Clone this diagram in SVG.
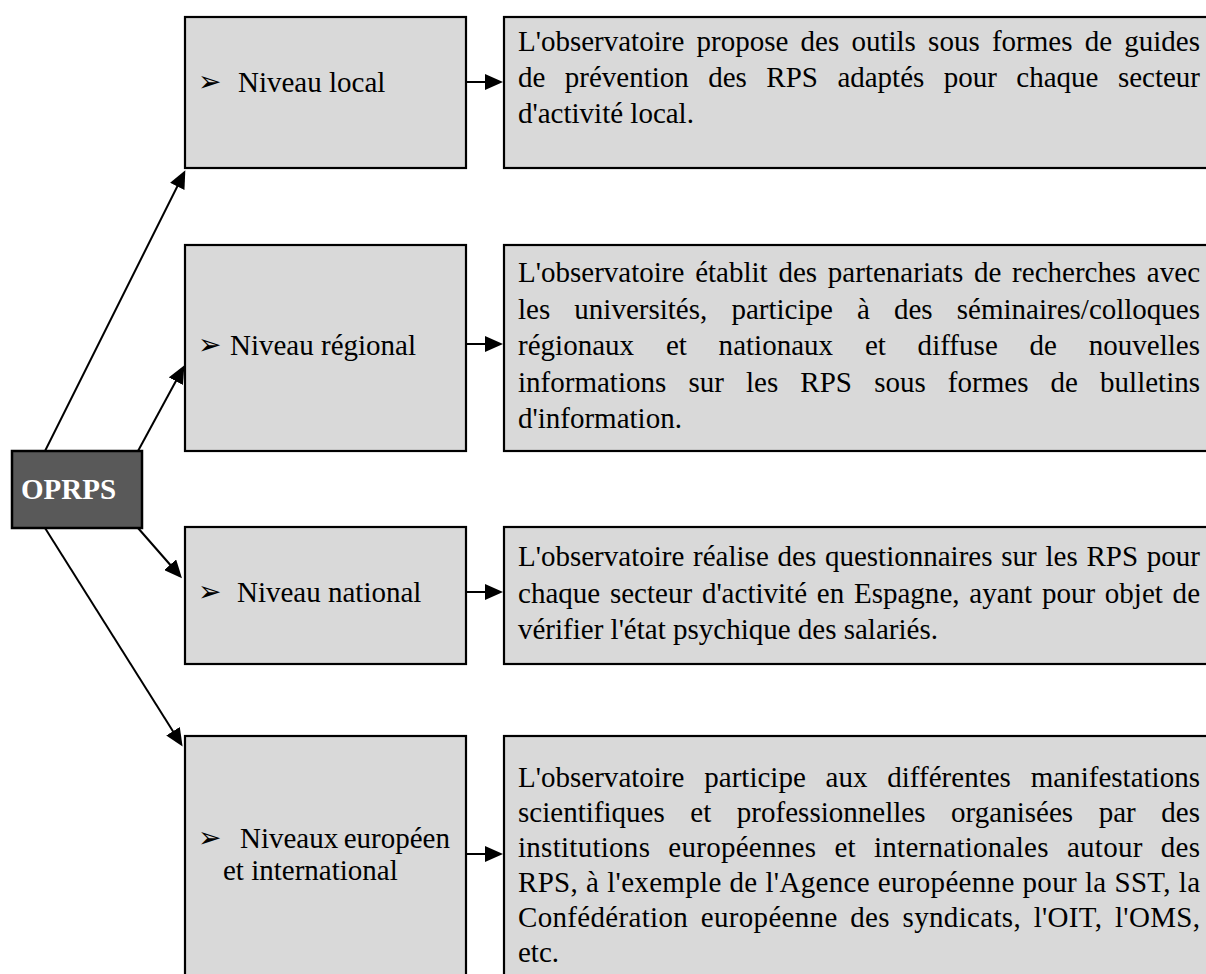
<svg xmlns="http://www.w3.org/2000/svg" width="1206" height="974" viewBox="0 0 1206 974">
<style>
.box{fill:#d9d9d9;stroke:#000;stroke-width:2.2}
.t{font-family:"Liberation Serif","Times New Roman",serif;font-size:29px;fill:#000}
.b{font-family:"DejaVu Sans",sans-serif;font-size:28px;fill:#000}
.c{stroke:#000;stroke-width:2;fill:none;marker-end:url(#ah)}
</style>
<defs>
<marker id="ah" markerUnits="userSpaceOnUse" markerWidth="18" markerHeight="16" refX="15" refY="8" orient="auto">
<path d="M0,0 L18,8 L0,16 Z" fill="#000"/>
</marker>
</defs>
<rect width="1206" height="974" fill="#fff"/>

<g id="oprps">
<rect x="12" y="451" width="130" height="77" fill="#595959" stroke="#000" stroke-width="2.5"/>
<text x="21" y="499" font-family="Liberation Serif,Times New Roman,serif" font-size="29" font-weight="bold" fill="#fff">OPRPS</text>
</g>

<g id="local">
<rect class="box" x="185" y="17" width="281" height="151"/>
<text class="b" x="198" y="91">➢</text>
<text class="t" x="238" y="92">Niveau local</text>
</g>
<g id="local-desc">
<rect class="box" x="504" y="17" width="720" height="151"/>
<text class="t" x="518" y="50.5" word-spacing="5" textLength="682" lengthAdjust="spacing">L'observatoire propose des outils sous formes de guides</text>
<text class="t" x="518" y="86.5" word-spacing="12.2" textLength="682" lengthAdjust="spacing">de prévention des RPS adaptés pour chaque secteur</text>
<text class="t" x="518" y="122.5">d'activité local.</text>
</g>

<g id="regional">
<rect class="box" x="185" y="245" width="281" height="206"/>
<text class="b" x="198" y="354">➢</text>
<text class="t" x="230" y="355">Niveau régional</text>
</g>
<g id="regional-desc">
<rect class="box" x="504" y="245" width="720" height="206"/>
<text class="t" x="518" y="282" word-spacing="3.5" textLength="682" lengthAdjust="spacing">L'observatoire établit des partenariats de recherches avec</text>
<text class="t" x="518" y="318.5" word-spacing="16.9" textLength="682" lengthAdjust="spacing">les universités, participe à des séminaires/colloques</text>
<text class="t" x="518" y="355" word-spacing="24.5" textLength="682" lengthAdjust="spacing">régionaux et nationaux et diffuse de nouvelles</text>
<text class="t" x="518" y="391.5" word-spacing="14.9" textLength="682" lengthAdjust="spacing">informations sur les RPS sous formes de bulletins</text>
<text class="t" x="518" y="428">d'information.</text>
</g>

<g id="national">
<rect class="box" x="185" y="527" width="281" height="137"/>
<text class="b" x="198" y="601">➢</text>
<text class="t" x="237" y="602">Niveau national</text>
</g>
<g id="national-desc">
<rect class="box" x="504" y="527" width="720" height="137"/>
<text class="t" x="518" y="566" word-spacing="1.5" textLength="682" lengthAdjust="spacing">L'observatoire réalise des questionnaires sur les RPS pour</text>
<text class="t" x="518" y="602.5" word-spacing="2.5" textLength="682" lengthAdjust="spacing">chaque secteur d'activité en Espagne, ayant pour objet de</text>
<text class="t" x="518" y="639">vérifier l'état psychique des salariés.</text>
</g>

<g id="europeen">
<rect class="box" x="185" y="736" width="281" height="260"/>
<text class="b" x="198" y="847">➢</text>
<text class="t" x="240" y="848">Niveaux</text>
<text class="t" x="450" y="848" text-anchor="end">européen</text>
<text class="t" x="223" y="880">et international</text>
</g>
<g id="europeen-desc">
<rect class="box" x="504" y="736" width="720" height="260"/>
<text class="t" x="518" y="787" word-spacing="12.5" textLength="682" lengthAdjust="spacing">L'observatoire participe aux différentes manifestations</text>
<text class="t" x="518" y="822" word-spacing="18.3" textLength="682" lengthAdjust="spacing">scientifiques et professionnelles organisées par des</text>
<text class="t" x="518" y="857" word-spacing="10.6" textLength="682" lengthAdjust="spacing">institutions européennes et internationales autour des</text>
<text class="t" x="518" y="892" word-spacing="0.4" textLength="682" lengthAdjust="spacing">RPS, à l'exemple de l'Agence européenne pour la SST, la</text>
<text class="t" x="518" y="927" word-spacing="5.1" textLength="682" lengthAdjust="spacing">Confédération européenne des syndicats, l'OIT, l'OMS,</text>
<text class="t" x="518" y="962">etc.</text>
</g>

<g id="connectors">
<line class="c" x1="45" y1="451" x2="184" y2="173"/>
<line class="c" x1="138" y1="451" x2="183" y2="368"/>
<line class="c" x1="138" y1="528" x2="180" y2="576"/>
<line class="c" x1="45" y1="528" x2="181" y2="744"/>
<line class="c" x1="466" y1="82" x2="500" y2="82"/>
<line class="c" x1="466" y1="344" x2="500" y2="344"/>
<line class="c" x1="466" y1="592" x2="500" y2="592"/>
<line class="c" x1="466" y1="854" x2="500" y2="854"/>
</g>
</svg>
